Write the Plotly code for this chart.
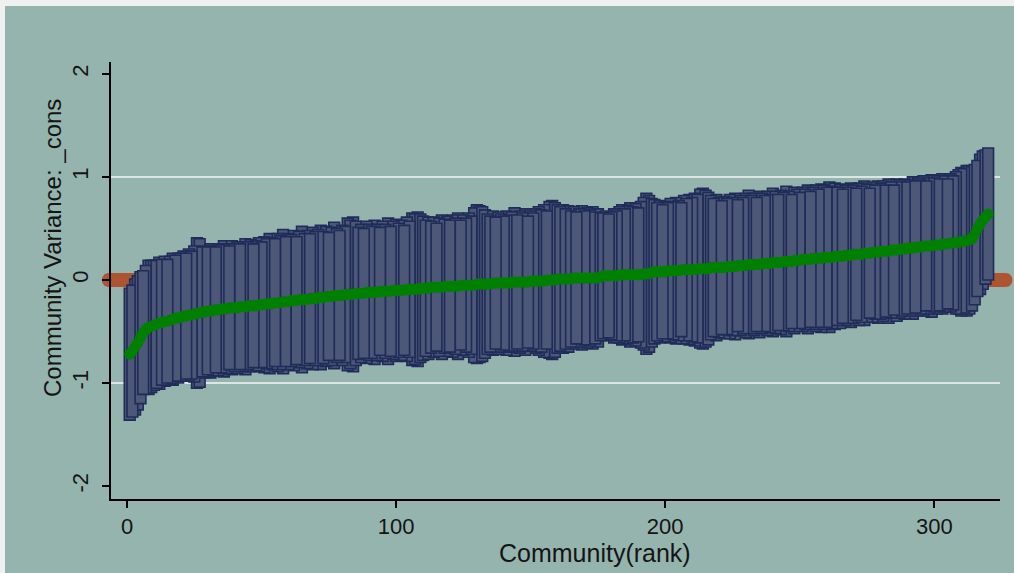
import plotly.graph_objects as go

# Community random-effect estimates (level-2 residuals on _cons), ranked
rank = list(range(1, 321))

estimate = [
    -0.72, -0.69, -0.65, -0.61, -0.56, -0.51, -0.48, -0.46, -0.45, -0.44,
    -0.43, -0.42, -0.41, -0.40, -0.40, -0.39, -0.38, -0.37, -0.37, -0.36,
    -0.35, -0.35, -0.34, -0.34, -0.33, -0.32, -0.32, -0.31, -0.31, -0.30,
    -0.30, -0.30, -0.29, -0.29, -0.28, -0.28, -0.28, -0.27, -0.27, -0.27,
    -0.27, -0.26, -0.26, -0.26, -0.25, -0.25, -0.25, -0.25, -0.24, -0.24,
    -0.24, -0.23, -0.23, -0.23, -0.22, -0.22, -0.22, -0.21, -0.21, -0.21,
    -0.20, -0.20, -0.20, -0.19, -0.19, -0.19, -0.19, -0.18, -0.18, -0.18,
    -0.17, -0.17, -0.17, -0.16, -0.16, -0.16, -0.15, -0.15, -0.15, -0.15,
    -0.14, -0.14, -0.14, -0.14, -0.13, -0.13, -0.13, -0.13, -0.12, -0.12,
    -0.12, -0.12, -0.12, -0.11, -0.11, -0.11, -0.11, -0.11, -0.10, -0.10,
    -0.10, -0.10, -0.10, -0.09, -0.09, -0.09, -0.09, -0.09, -0.08, -0.08,
    -0.08, -0.08, -0.07, -0.07, -0.07, -0.07, -0.07, -0.06, -0.06, -0.06,
    -0.06, -0.06, -0.06, -0.05, -0.05, -0.05, -0.05, -0.05, -0.05, -0.04,
    -0.04, -0.04, -0.04, -0.04, -0.04, -0.03, -0.03, -0.03, -0.03, -0.03,
    -0.03, -0.03, -0.02, -0.02, -0.02, -0.02, -0.02, -0.02, -0.02, -0.01,
    -0.01, -0.01, -0.01, -0.01, -0.01, 0.00, 0.00, 0.00, 0.00, 0.01,
    0.01, 0.01, 0.01, 0.01, 0.01, 0.02, 0.02, 0.02, 0.02, 0.02,
    0.02, 0.02, 0.02, 0.02, 0.02, 0.03, 0.04, 0.04, 0.04, 0.04,
    0.04, 0.04, 0.05, 0.05, 0.05, 0.05, 0.05, 0.05, 0.05, 0.05,
    0.05, 0.06, 0.06, 0.06, 0.07, 0.08, 0.08, 0.08, 0.08, 0.08,
    0.09, 0.09, 0.09, 0.09, 0.09, 0.10, 0.10, 0.10, 0.10, 0.10,
    0.10, 0.11, 0.11, 0.11, 0.11, 0.11, 0.12, 0.12, 0.12, 0.12,
    0.12, 0.12, 0.13, 0.13, 0.13, 0.13, 0.14, 0.14, 0.14, 0.14,
    0.15, 0.15, 0.15, 0.15, 0.15, 0.16, 0.16, 0.16, 0.16, 0.17,
    0.17, 0.17, 0.17, 0.18, 0.18, 0.18, 0.18, 0.19, 0.19, 0.19,
    0.20, 0.20, 0.20, 0.20, 0.21, 0.21, 0.21, 0.21, 0.22, 0.22,
    0.22, 0.22, 0.23, 0.23, 0.23, 0.23, 0.24, 0.24, 0.24, 0.25,
    0.25, 0.25, 0.25, 0.26, 0.26, 0.26, 0.27, 0.27, 0.27, 0.28,
    0.28, 0.28, 0.28, 0.29, 0.29, 0.29, 0.30, 0.30, 0.30, 0.31,
    0.31, 0.31, 0.32, 0.32, 0.32, 0.33, 0.33, 0.33, 0.33, 0.34,
    0.34, 0.34, 0.35, 0.35, 0.35, 0.36, 0.36, 0.36, 0.37, 0.37,
    0.38, 0.38, 0.39, 0.40, 0.44, 0.50, 0.54, 0.58, 0.61, 0.64,
]

# Half-width of each community's confidence interval
half_width = [
    0.64, 0.64, 0.66, 0.65, 0.64, 0.60, 0.62, 0.65, 0.64, 0.63,
    0.62, 0.64, 0.61, 0.63, 0.60, 0.62, 0.64, 0.61, 0.63, 0.62,
    0.63, 0.61, 0.64, 0.62, 0.66, 0.73, 0.72, 0.63, 0.64, 0.62,
    0.65, 0.63, 0.61, 0.64, 0.62, 0.66, 0.63, 0.60, 0.65, 0.62,
    0.64, 0.61, 0.63, 0.66, 0.62, 0.64, 0.60, 0.63, 0.65, 0.61,
    0.66, 0.63, 0.68, 0.64, 0.62, 0.67, 0.65, 0.70, 0.63, 0.66,
    0.64, 0.68, 0.62, 0.66, 0.71, 0.64, 0.67, 0.63, 0.69, 0.65,
    0.66, 0.70, 0.64, 0.68, 0.62, 0.67, 0.71, 0.65, 0.63, 0.68,
    0.66, 0.74, 0.72, 0.75, 0.70, 0.64, 0.67, 0.63, 0.69, 0.66,
    0.64, 0.70, 0.66, 0.62, 0.68, 0.65, 0.71, 0.63, 0.67, 0.69,
    0.65, 0.68, 0.63, 0.70, 0.66, 0.74, 0.73, 0.75, 0.72, 0.70,
    0.66, 0.69, 0.64, 0.68, 0.62, 0.67, 0.70, 0.65, 0.68, 0.64,
    0.69, 0.66, 0.71, 0.63, 0.68, 0.65, 0.70, 0.67, 0.75, 0.77,
    0.76, 0.75, 0.72, 0.68, 0.66, 0.70, 0.64, 0.69, 0.67, 0.65,
    0.70, 0.66, 0.68, 0.72, 0.65, 0.69, 0.67, 0.71, 0.64, 0.68,
    0.66, 0.70, 0.72, 0.69, 0.74, 0.67, 0.76, 0.77, 0.75, 0.72,
    0.70, 0.72, 0.68, 0.71, 0.66, 0.69, 0.64, 0.67, 0.70, 0.65,
    0.68, 0.66, 0.69, 0.64, 0.67, 0.62, 0.61, 0.63, 0.60, 0.62,
    0.65, 0.63, 0.66, 0.68, 0.64, 0.67, 0.70, 0.66, 0.69, 0.65,
    0.71, 0.74, 0.78, 0.76, 0.72, 0.70, 0.67, 0.69, 0.65, 0.68,
    0.66, 0.70, 0.67, 0.71, 0.68, 0.65, 0.72, 0.69, 0.73, 0.70,
    0.74, 0.72, 0.77, 0.78, 0.76, 0.74, 0.70, 0.67, 0.71, 0.68,
    0.65, 0.69, 0.66, 0.70, 0.67, 0.71, 0.64, 0.68, 0.66, 0.70,
    0.72, 0.67, 0.69, 0.65, 0.71, 0.68, 0.66, 0.70, 0.67, 0.72,
    0.69, 0.66, 0.70, 0.67, 0.73, 0.68, 0.65, 0.71, 0.69, 0.66,
    0.70, 0.68, 0.72, 0.66, 0.69, 0.71, 0.67, 0.72, 0.70, 0.68,
    0.73, 0.69, 0.71, 0.67, 0.70, 0.65, 0.68, 0.66, 0.70, 0.67,
    0.64, 0.69, 0.66, 0.70, 0.67, 0.63, 0.68, 0.65, 0.69, 0.66,
    0.68, 0.64, 0.70, 0.66, 0.63, 0.69, 0.67, 0.65, 0.68, 0.64,
    0.66, 0.69, 0.64, 0.67, 0.65, 0.68, 0.63, 0.66, 0.69, 0.65,
    0.67, 0.64, 0.68, 0.66, 0.63, 0.67, 0.65, 0.69, 0.70, 0.72,
    0.70, 0.73, 0.72, 0.70, 0.68, 0.66, 0.68, 0.67, 0.65, 0.64,
]

lower = [e - h for e, h in zip(estimate, half_width)]
upper = [e + h for e, h in zip(estimate, half_width)]

x_ticks = [0, 100, 200, 300]
y_ticks = [-2, -1, 0, 1, 2]
y_tick_text = ["-2", "-1", "0", "1", "2"]
grid_y = [-1, 1]

X_RANGE = [-5.95, 324.4]
Y_RANGE = [-2.125, 2.115]
ZERO_SPAN = [-9.3, 329.0]     # extent of the reference line at zero
ZERO_HALF = 0.068              # half thickness of that line, in y units

W, H = 1014, 573
M_L, M_R, M_T, M_B = 111, 14, 62, 74
PLOT_W = W - M_L - M_R
PLOT_H = H - M_T - M_B

BG = "#96b4ae"
BAR_FILL = "#4d5777"
BAR_EDGE = "#1f2c58"
EST_GREEN = "#008000"
ZERO_ORANGE = "#ad5530"
FONT = "Liberation Sans, Arial, sans-serif"
INK = "#141414"


def x_paper(v):
    return (v - X_RANGE[0]) / (X_RANGE[1] - X_RANGE[0])


def px_to_paper_x(px):
    return (px - M_L) / PLOT_W


def px_to_paper_y(py):
    return (H - M_B - py) / PLOT_H


# widest intervals are painted first so the narrower ones sit on top
order = sorted(range(len(rank)), key=lambda i: -half_width[i])

fig = go.Figure()

# Confidence intervals as floating bars
fig.add_trace(go.Bar(
    x=[rank[i] for i in order],
    y=[upper[i] - lower[i] for i in order],
    base=[lower[i] for i in order],
    width=4.0,
    marker=dict(color=BAR_FILL, line=dict(color=BAR_EDGE, width=1.6)),
    hoverinfo="skip",
))

# Point estimates
fig.add_trace(go.Scatter(
    x=rank,
    y=estimate,
    mode="markers",
    marker=dict(size=11, color=EST_GREEN, line=dict(width=0)),
    hoverinfo="skip",
))

shapes = []

# white gridlines
for gy in grid_y:
    shapes.append(dict(type="line", xref="paper", yref="y", x0=0, x1=1,
                       y0=gy, y1=gy, layer="below",
                       line=dict(color="#f4f7f6", width=1.5)))

# thick orange reference line at zero with rounded ends
xl, xr = x_paper(ZERO_SPAN[0]), x_paper(ZERO_SPAN[1])
r = 7 / PLOT_W
k = 4 / 3 * r
h = ZERO_HALF
path = (f"M {xl + r},{-h} L {xr - r},{-h} "
        f"C {xr - r + k},{-h} {xr - r + k},{h} {xr - r},{h} "
        f"L {xl + r},{h} "
        f"C {xl + r - k},{h} {xl + r - k},{-h} {xl + r},{-h} Z")
shapes.append(dict(type="path", xref="paper", yref="y", path=path,
                   fillcolor=ZERO_ORANGE, line=dict(width=0), layer="below"))

# light frame strips along the top and left edges
shapes.append(dict(type="rect", xref="paper", yref="paper",
                   x0=px_to_paper_x(0), x1=px_to_paper_x(W),
                   y0=px_to_paper_y(6), y1=px_to_paper_y(0),
                   fillcolor="#eef1f0", line=dict(width=0), layer="below"))
shapes.append(dict(type="rect", xref="paper", yref="paper",
                   x0=px_to_paper_x(0), x1=px_to_paper_x(5),
                   y0=px_to_paper_y(H), y1=px_to_paper_y(0),
                   fillcolor="#eef1f0", line=dict(width=0), layer="below"))

annotations = [
    dict(text="Community(rank)", xref="paper", yref="paper",
         x=px_to_paper_x(595), y=px_to_paper_y(553),
         xanchor="center", yanchor="middle", showarrow=False,
         font=dict(family=FONT, size=25, color=INK)),
    dict(text="Community Variance: _cons", xref="paper", yref="paper",
         x=px_to_paper_x(53), y=px_to_paper_y(248), textangle=-90,
         xanchor="center", yanchor="middle", showarrow=False,
         font=dict(family=FONT, size=24, color=INK)),
]

axis_common = dict(
    showline=True, linecolor="black", linewidth=1.5,
    ticks="outside", ticklen=7, tickwidth=1.5, tickcolor="black",
    showgrid=False, zeroline=False, fixedrange=True,
)

fig.update_layout(
    width=W, height=H,
    margin=dict(l=M_L, r=M_R, t=M_T, b=M_B, pad=0),
    paper_bgcolor=BG, plot_bgcolor=BG,
    showlegend=False,
    barmode="overlay",
    shapes=shapes,
    annotations=annotations,
    xaxis=dict(range=X_RANGE, tickvals=x_ticks,
               tickfont=dict(family=FONT, size=22, color=INK), **axis_common),
    yaxis=dict(range=Y_RANGE, tickvals=y_ticks, ticktext=y_tick_text,
               tickangle=-90, ticklabelstandoff=5,
               tickfont=dict(family=FONT, size=22, color=INK), **axis_common),
)

fig.write_html("out.html")
